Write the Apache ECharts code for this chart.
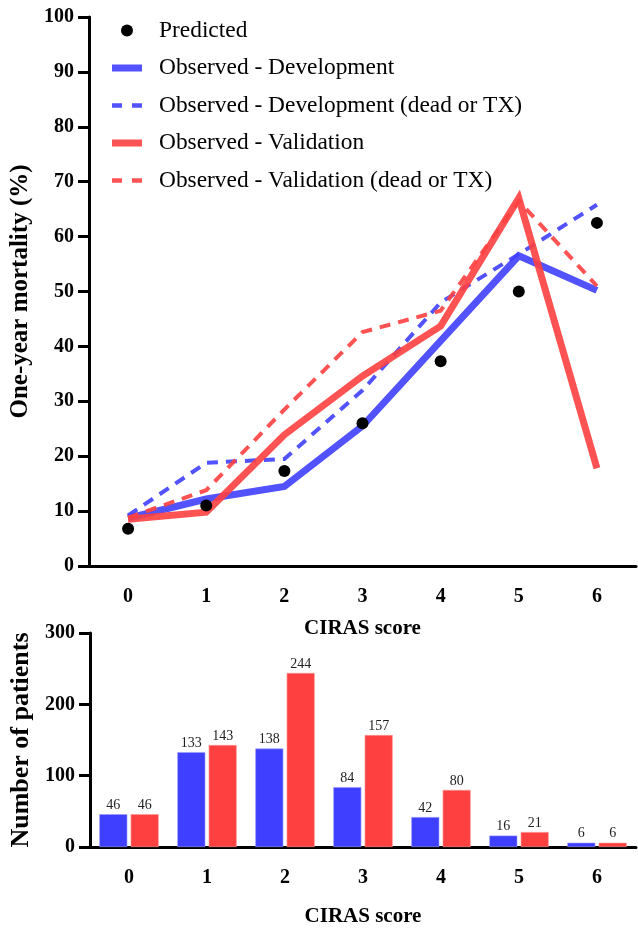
<!DOCTYPE html>
<html>
<head>
<meta charset="utf-8">
<script src="https://cdn.jsdelivr.net/npm/echarts@6/dist/echarts.min.js"></script>
<style>html,body{margin:0;padding:0;background:#fff}#c{width:638px;height:928px}</style>
</head>
<body>
<div id="c"></div>
<script>
const categories = ['0','1','2','3','4','5','6'];
const predicted = [6.8, 11.0, 17.3, 26.0, 37.3, 50.0, 62.5];
const obsDev = [8.7, 12.2, 14.5, 25.5, 41.0, 56.5, 50.2];
const obsDevDeadTx = [9.2, 18.8, 19.5, 32.0, 48.0, 56.8, 65.8];
const obsVal = [8.5, 9.8, 23.9, 34.6, 43.7, 67.0, 17.8];
const obsValDeadTx = [8.8, 13.8, 28.5, 42.6, 46.5, 66.5, 51.0];
const patientsDev = [46, 133, 138, 84, 42, 16, 6];
const patientsVal = [46, 143, 244, 157, 80, 21, 6];
const mortalityTicks = {min: 0, max: 100, interval: 10};
const patientTicks = {min: 0, max: 300, interval: 100};

const BLUE = '#3f3fff', RED = '#ff4040';
const serif = '"Liberation Serif", "DejaVu Serif", serif';
const chart = echarts.init(document.getElementById('c'), null, {renderer: 'canvas'});

const SOLID_ICON = 'path://M0,0H30V7H0Z';
const DASH_ICON = 'path://M0,0H10V4.5H0ZM20,0H30V4.5H20Z';

function xAxis(gridIndex) {
  return {
    type: 'category', gridIndex, data: categories, boundaryGap: true,
    name: 'CIRAS score', nameLocation: 'middle', nameGap: gridIndex === 0 ? 52 : 59,
    nameTextStyle: {fontFamily: serif, fontWeight: 'bold', fontSize: 21, color: '#000'},
    axisLine: {lineStyle: {color: '#000', width: 3}},
    axisTick: {alignWithLabel: true, length: 11, lineStyle: {color: '#000', width: 3}},
    axisLabel: {fontFamily: serif, fontWeight: 'bold', fontSize: 20, color: '#000', margin: 21},
    splitLine: {show: false}
  };
}
function yAxis(gridIndex, ticks, name, nameSize) {
  return {
    type: 'value', gridIndex, min: ticks.min, max: ticks.max, interval: ticks.interval,
    name, nameLocation: 'middle', nameGap: 56,
    nameTextStyle: {fontFamily: serif, fontWeight: 'bold', fontSize: nameSize, color: '#000'},
    axisLine: {show: true, lineStyle: {color: '#000', width: 3}},
    axisTick: {show: true, length: 11, lineStyle: {color: '#000', width: 3}},
    axisLabel: {fontFamily: serif, fontWeight: 'bold', fontSize: 20, color: '#000', margin: 15},
    splitLine: {show: false}
  };
}
function lineSeries(name, data, color, dashed) {
  return {
    name, type: 'line', xAxisIndex: 0, yAxisIndex: 0, data,
    symbol: 'none', silent: true,
    lineStyle: {color, width: dashed ? 4 : 7, type: dashed ? [11, 8] : 'solid', opacity: 0.9, cap: 'butt', join: 'miter'},
    itemStyle: {color, opacity: 0.9}
  };
}
const barLabel = {show: true, position: 'top', distance: 2, fontFamily: serif, fontSize: 14, color: '#222'};

chart.setOption({
  animation: false,
  backgroundColor: '#fff',
  grid: [
    {left: 88, right: 2, top: 17, bottom: 362, containLabel: false},
    {left: 88, right: 2, top: 633, bottom: 75, containLabel: false}
  ],
  legend: {
    orient: 'vertical', left: 112, top: 19, padding: 0, itemGap: 14.5, itemWidth: 30, itemHeight: 12,
    symbolKeepAspect: true,
    textStyle: {fontFamily: serif, fontSize: 23.4, color: '#000', padding: [0, 0, 0, 12]},
    data: [
      {name: 'Predicted', icon: 'circle', itemStyle: {color: '#000'}},
      {name: 'Observed - Development', icon: SOLID_ICON, itemStyle: {color: BLUE, opacity: 0.9}},
      {name: 'Observed - Development (dead or TX)', icon: DASH_ICON, itemStyle: {color: BLUE, opacity: 0.9}},
      {name: 'Observed - Validation', icon: SOLID_ICON, itemStyle: {color: RED, opacity: 0.9}},
      {name: 'Observed - Validation (dead or TX)', icon: DASH_ICON, itemStyle: {color: RED, opacity: 0.9}}
    ],
    selectedMode: false
  },
  xAxis: [xAxis(0), xAxis(1)],
  yAxis: [yAxis(0, mortalityTicks, 'One-year mortality (%)', 25), yAxis(1, patientTicks, 'Number of patients', 26)],
  series: [
    lineSeries('Observed - Development', obsDev, BLUE, false),
    lineSeries('Observed - Development (dead or TX)', obsDevDeadTx, BLUE, true),
    lineSeries('Observed - Validation', obsVal, RED, false),
    lineSeries('Observed - Validation (dead or TX)', obsValDeadTx, RED, true),
    {
      name: 'Predicted', type: 'scatter', xAxisIndex: 0, yAxisIndex: 0, data: predicted,
      symbol: 'circle', symbolSize: 12, itemStyle: {color: '#000', opacity: 1}, z: 5
    },
    {
      name: 'Development patients', type: 'bar', xAxisIndex: 1, yAxisIndex: 1, data: patientsDev,
      barWidth: 28, barGap: '12%', itemStyle: {color: BLUE, borderColor: '#9a9aff', borderWidth: 0.6},
      label: barLabel
    },
    {
      name: 'Validation patients', type: 'bar', xAxisIndex: 1, yAxisIndex: 1, data: patientsVal,
      barWidth: 28, barGap: '12%', itemStyle: {color: RED, borderColor: '#ff9a9a', borderWidth: 0.6},
      label: barLabel
    }
  ]
});
</script>
</body>
</html>
